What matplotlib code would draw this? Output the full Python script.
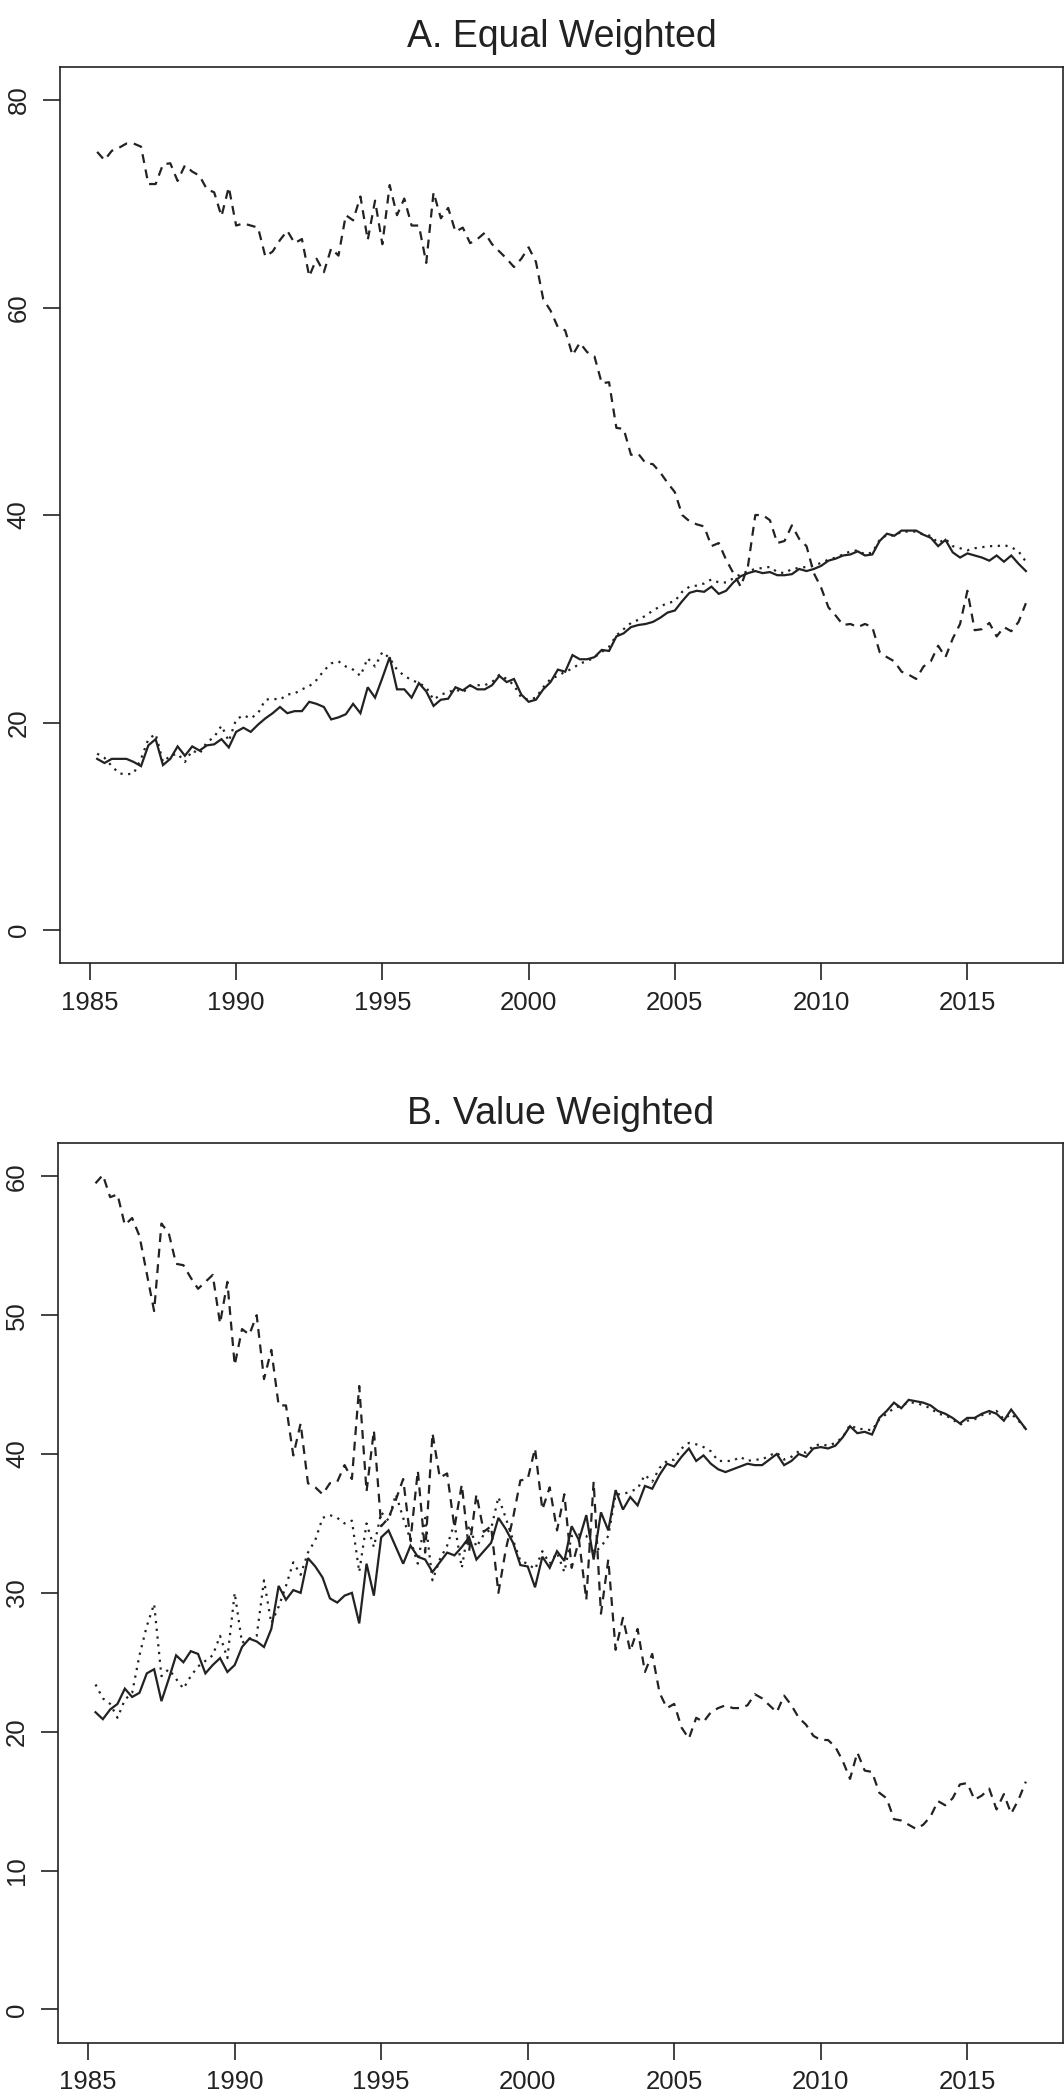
import numpy as np
import matplotlib
matplotlib.use("Agg")
import matplotlib.pyplot as plt

plt.rcParams['font.family'] = ['Liberation Sans', 'DejaVu Sans']

# quarterly observations, 1985.25 .. 2017.0
quarters = np.arange(1985.25, 2017.01, 0.25)

# Panel A: equal weighted
ew_dash = [75.0, 74.2, 75.1, 75.4, 75.8, 75.8, 75.5, 71.9, 71.9, 73.8,
           73.9, 72.2, 73.7, 73.1, 72.7, 71.4, 71.1, 68.8, 71.6, 67.9,
           68.1, 67.9, 67.7, 64.9, 65.4, 66.5, 67.4, 66.2, 66.6, 63.0,
           64.7, 63.4, 65.7, 65.0, 68.9, 68.4, 70.7, 66.5, 70.3, 66.1,
           71.8, 68.9, 70.5, 67.9, 67.9, 64.3, 71.1, 68.6, 69.6, 67.3,
           67.7, 66.2, 66.6, 67.2, 66.1, 65.4, 64.7, 63.9, 64.7, 65.8,
           64.4, 60.8, 59.7, 58.1, 57.8, 55.4, 56.6, 55.7, 55.3, 52.7,
           52.8, 48.4, 48.3, 45.8, 45.9, 45.0, 44.9, 44.1, 43.1, 42.2,
           40.0, 39.4, 39.1, 38.9, 37.0, 37.3, 35.7, 34.4, 33.1, 35.1,
           40.0, 40.0, 39.5, 37.3, 37.5, 39.0, 37.7, 37.0, 34.4, 33.0,
           31.1, 30.3, 29.4, 29.5, 29.2, 29.5, 29.2, 26.8, 26.3, 25.9,
           24.9, 24.6, 24.2, 25.4, 25.9, 27.4, 26.3, 28.1, 29.5, 32.7,
           28.9, 29.0, 29.6, 28.3, 29.2, 28.8, 29.7, 31.5]
ew_solid = [16.5, 16.1, 16.5, 16.5, 16.5, 16.2, 15.8, 17.8, 18.4, 15.9,
            16.5, 17.7, 16.8, 17.7, 17.3, 17.8, 17.9, 18.4, 17.6, 19.1,
            19.5, 19.1, 19.8, 20.4, 20.9, 21.5, 20.9, 21.1, 21.1, 22.0,
            21.8, 21.5, 20.3, 20.5, 20.8, 21.8, 20.9, 23.4, 22.4, 24.3,
            26.3, 23.2, 23.2, 22.4, 23.8, 23.0, 21.6, 22.2, 22.3, 23.4,
            23.1, 23.6, 23.2, 23.2, 23.6, 24.5, 23.9, 24.2, 22.7, 22.0,
            22.2, 23.2, 23.9, 25.1, 24.9, 26.5, 26.1, 26.1, 26.3, 27.0,
            26.9, 28.3, 28.6, 29.2, 29.4, 29.5, 29.7, 30.1, 30.6, 30.8,
            31.7, 32.5, 32.7, 32.6, 33.1, 32.4, 32.7, 33.5, 34.1, 34.4,
            34.6, 34.4, 34.5, 34.2, 34.2, 34.3, 34.8, 34.6, 34.8, 35.1,
            35.6, 35.8, 36.1, 36.2, 36.5, 36.1, 36.2, 37.5, 38.2, 38.0,
            38.5, 38.5, 38.5, 38.1, 37.8, 37.0, 37.6, 36.4, 35.9, 36.3,
            36.1, 35.9, 35.6, 36.1, 35.5, 36.1, 35.3, 34.6]
ew_dot = [17.0, 16.6, 15.8, 15.1, 15.0, 15.1, 16.5, 18.4, 18.9, 16.2,
          16.8, 17.0, 16.2, 17.3, 17.0, 18.1, 18.6, 19.7, 18.2, 20.3,
          20.7, 20.4, 20.9, 22.2, 22.3, 22.2, 22.7, 22.8, 23.2, 23.5,
          24.1, 25.0, 25.7, 25.9, 25.4, 25.1, 24.5, 26.2, 25.4, 26.8,
          26.2, 25.1, 24.5, 24.1, 23.8, 23.4, 22.2, 22.7, 22.9, 23.2,
          22.9, 23.5, 23.6, 23.6, 23.9, 24.6, 24.2, 23.6, 22.4, 22.2,
          22.4, 23.4, 24.2, 24.5, 24.9, 25.2, 25.7, 25.9, 26.3, 26.8,
          27.3, 28.4, 29.0, 29.6, 29.9, 30.3, 30.8, 31.2, 31.5, 31.7,
          32.6, 33.1, 33.2, 33.4, 33.8, 33.5, 33.5, 33.9, 34.3, 34.6,
          34.8, 34.9, 35.0, 34.5, 34.4, 34.8, 34.9, 35.0, 35.1, 35.4,
          35.7, 35.9, 36.2, 36.5, 36.6, 36.2, 36.4, 37.6, 38.1, 38.0,
          38.4, 38.4, 38.4, 38.1, 38.0, 37.3, 37.7, 37.0, 36.8, 36.6,
          36.8, 36.9, 37.0, 37.0, 37.1, 36.9, 36.5, 35.5]

# Panel B: value weighted
vw_dash = [59.5, 60.1, 58.5, 58.7, 56.5, 57.0, 55.7, 53.0, 50.3, 56.6,
           55.9, 53.7, 53.6, 52.7, 51.9, 52.4, 52.9, 49.4, 52.4, 46.4,
           49.0, 48.6, 50.0, 45.4, 47.5, 43.5, 43.5, 39.9, 42.2, 37.9,
           37.6, 37.1, 37.9, 38.0, 39.2, 38.2, 44.9, 37.3, 41.7, 34.8,
           35.4, 36.7, 38.2, 33.8, 38.8, 32.9, 41.5, 38.3, 38.6, 34.7,
           37.8, 33.0, 37.1, 34.4, 34.8, 30.0, 33.1, 35.4, 38.1, 38.2,
           40.4, 36.0, 37.6, 34.5, 37.1, 31.8, 33.8, 29.5, 38.0, 28.5,
           32.4, 25.9, 28.2, 25.8, 27.4, 24.3, 25.6, 22.8, 21.7, 22.0,
           20.3, 19.5, 21.0, 20.7, 21.4, 21.7, 21.9, 21.7, 21.7, 21.9,
           22.7, 22.4, 21.9, 21.4, 22.6, 21.9, 21.0, 20.5, 19.7, 19.4,
           19.4, 18.9, 17.9, 16.6, 18.5, 17.2, 17.1, 15.6, 15.2, 13.7,
           13.6, 13.3, 13.0, 13.3, 13.9, 15.0, 14.7, 15.2, 16.2, 16.3,
           15.1, 15.4, 15.9, 14.4, 15.5, 14.1, 15.1, 16.4]
vw_solid = [21.4, 20.9, 21.6, 22.0, 23.1, 22.5, 22.8, 24.2, 24.5, 22.2,
            23.8, 25.5, 25.0, 25.8, 25.6, 24.2, 24.8, 25.3, 24.3, 24.8,
            26.1, 26.7, 26.5, 26.1, 27.4, 30.5, 29.5, 30.2, 30.0, 32.5,
            31.9, 31.1, 29.6, 29.3, 29.8, 30.0, 27.8, 32.1, 29.8, 34.0,
            34.5, 33.3, 32.1, 33.4, 32.6, 32.4, 31.5, 32.2, 32.9, 32.7,
            33.3, 34.0, 32.4, 33.0, 33.6, 35.4, 34.6, 33.6, 32.0, 31.9,
            30.4, 32.6, 31.8, 33.0, 32.3, 34.8, 33.8, 35.6, 32.4, 35.8,
            34.5, 37.4, 36.0, 36.9, 36.3, 37.7, 37.5, 38.5, 39.3, 39.1,
            39.8, 40.4, 39.5, 39.9, 39.3, 38.9, 38.7, 38.9, 39.1, 39.3,
            39.2, 39.2, 39.6, 40.0, 39.2, 39.5, 40.0, 39.8, 40.4, 40.5,
            40.4, 40.6, 41.2, 42.0, 41.5, 41.6, 41.4, 42.6, 43.1, 43.7,
            43.3, 43.9, 43.8, 43.7, 43.5, 43.1, 42.9, 42.6, 42.2, 42.6,
            42.6, 42.9, 43.1, 42.9, 42.4, 43.2, 42.5, 41.8]
vw_dot = [23.4, 22.4, 22.0, 21.0, 22.3, 22.8, 25.5, 27.6, 29.2, 24.0,
          24.5, 23.8, 23.1, 24.0, 24.7, 25.1, 25.5, 26.9, 25.3, 30.0,
          26.4, 26.7, 26.9, 30.9, 27.8, 29.0, 30.5, 32.2, 31.3, 32.9,
          33.8, 35.4, 35.6, 35.4, 35.0, 35.2, 31.5, 35.0, 33.3, 35.8,
          35.2, 37.1, 35.4, 33.8, 32.1, 35.4, 30.9, 32.4, 33.4, 35.0,
          31.8, 34.9, 33.3, 34.2, 34.6, 36.9, 35.4, 33.8, 32.3, 32.1,
          31.7, 33.0, 32.1, 32.9, 31.5, 34.1, 34.2, 34.1, 32.9, 33.3,
          34.1, 37.1, 37.1, 37.3, 37.5, 38.5, 38.0, 39.0, 39.5, 39.6,
          40.4, 40.8, 40.7, 40.5, 40.2, 39.5, 39.5, 39.5, 39.8, 39.5,
          39.6, 39.6, 39.9, 40.1, 39.6, 39.8, 40.2, 40.1, 40.6, 40.7,
          40.6, 40.8, 41.2, 42.1, 41.8, 41.8, 41.7, 42.5, 42.9, 43.3,
          43.5, 43.7, 43.7, 43.5, 43.3, 42.9, 42.8, 42.5, 42.1, 42.4,
          42.5, 42.8, 42.9, 43.1, 42.5, 42.9, 42.4, 41.8]

x_ticks = [1985, 1990, 1995, 2000, 2005, 2010, 2015]
ew_yticks = [0, 20, 40, 60, 80]
vw_yticks = [0, 10, 20, 30, 40, 50, 60]

ink = '#222222'
fig = plt.figure(figsize=(10.64, 21.0), dpi=100)
axA = fig.add_axes([0.0564, 0.5413, 0.9427, 0.4269])
axB = fig.add_axes([0.0548, 0.0273, 0.9443, 0.4284])


def draw_panel(ax, title, dash, solid, dot, yticks, ylim):
    ax.plot(quarters, solid, color=ink, lw=1.6, solid_joinstyle='miter')
    ax.plot(quarters, dot, color=ink, lw=1.6, linestyle=(0, (1, 2.5)))
    ax.plot(quarters, dash, color=ink, lw=1.6, linestyle=(0, (4, 3)))
    ax.set_xlim(1983.98, 2018.27)
    ax.set_ylim(*ylim)
    ax.set_xticks(x_ticks)
    ax.set_yticks(yticks)
    ax.set_yticklabels([str(v) for v in yticks], rotation=90, va='center')
    ax.tick_params(direction='out', length=12, width=1.2, colors=ink,
                   labelsize=18.5)
    ax.tick_params(axis='x', pad=8)
    ax.tick_params(axis='y', pad=9)
    for sp in ax.spines.values():
        sp.set_linewidth(1.2)
        sp.set_color(ink)
    ax.set_title(title, fontsize=27, color=ink, pad=14)


draw_panel(axA, 'A. Equal Weighted', ew_dash, ew_solid, ew_dot,
           ew_yticks, (-3.2, 83.2))
draw_panel(axB, 'B. Value Weighted', vw_dash, vw_solid, vw_dot,
           vw_yticks, (-2.4, 62.4))

fig.savefig('out.png', dpi=100)
